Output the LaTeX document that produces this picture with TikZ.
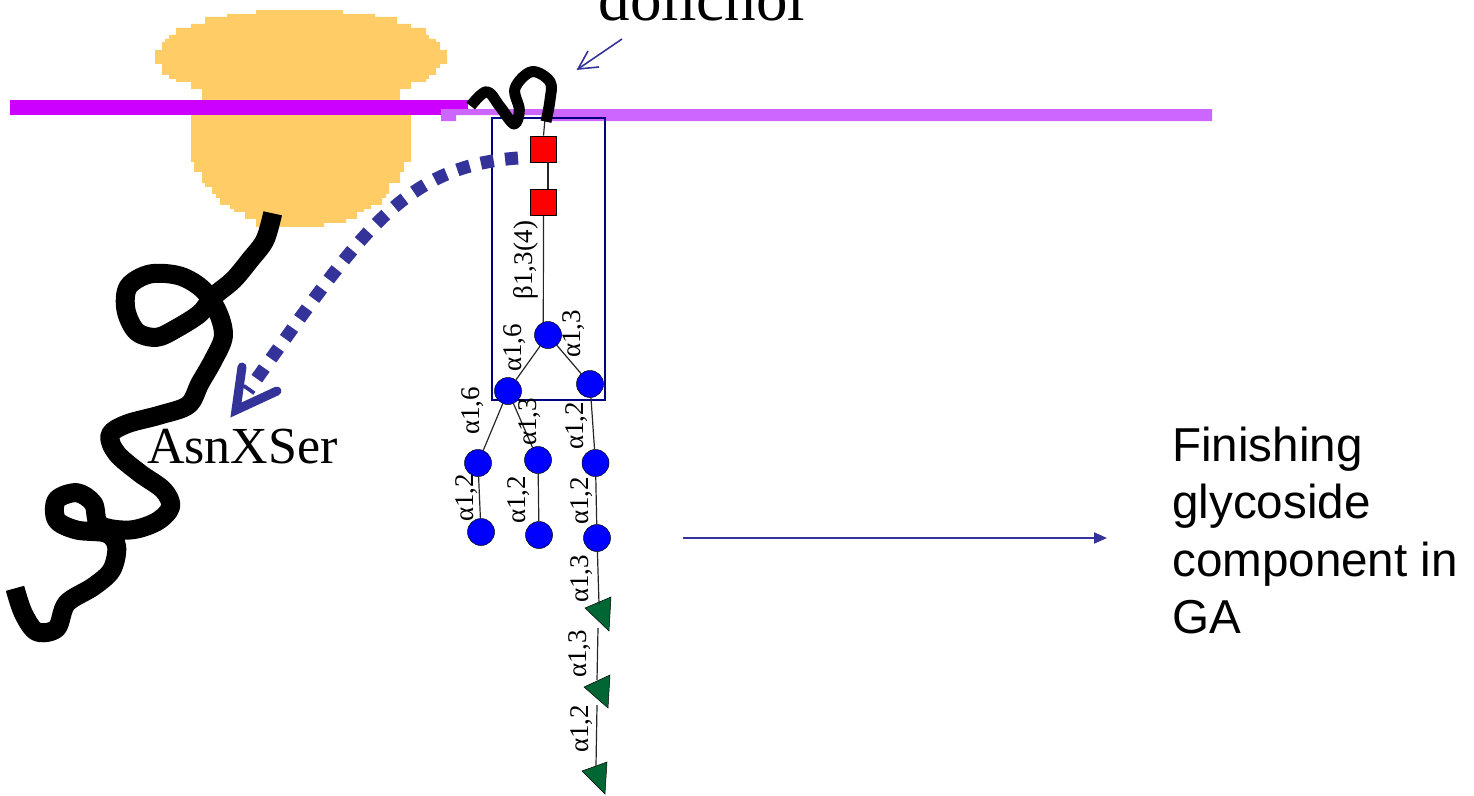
\documentclass[tikz,border=0pt]{standalone}
\usepackage{fontspec}
\setmainfont{Liberation Serif}
\newfontfamily\armfont{Liberation Sans}
\usetikzlibrary{arrows.meta}
\definecolor{ribo}{HTML}{FFCC66}
\definecolor{membA}{HTML}{CC00FF}
\definecolor{membB}{HTML}{CC66FF}
\definecolor{inkblue}{HTML}{333399}
\definecolor{boxblue}{HTML}{000080}
\definecolor{manblue}{HTML}{0000FF}
\definecolor{glcgreen}{HTML}{006633}
\tikzset{
  gnac/.style={rectangle,draw=black,line width=0.9pt,fill=red,minimum size=26pt,inner sep=0pt},
  man/.style={circle,draw=black,line width=0.5pt,fill=manblue,minimum size=27pt,inner sep=0pt},
  glc/.style={draw=black,line width=0.5pt,fill=glcgreen},
  bond/.style={draw=black!85,line width=1.2pt},
  link/.style={rotate=90,inner sep=0pt,font=\fontsize{27}{27}\selectfont},
  chain/.style={draw=black,line cap=butt,line join=round},
}
\begin{document}
\begin{tikzpicture}[x=1pt,y=-1pt]
\useasboundingbox (0,0) rectangle (1474,795);
% ribosome
\begin{scope}[shift={(140,0)},x=0.33333pt,y=-0.33333pt]
\fill[ribo] (348,30)-|(609,42)-|(705,51)-|(771,72)-|(813,84)-|(858,105)-|(867,117)-|(888,126)-|(900,150)-|(921,192)-|(900,204)-|(888,225)-|(867,237)-|(858,246)-|(813,267)-|(780,345)-|(813,486)-|(792,516)-|(780,549)-|(747,582)-|(738,594)-|(726,615)-|(693,627)-|(672,636)-|(651,657)-|(618,669)-|(552,681)-|(348,657)-|(315,636)-|(282,627)-|(270,615)-|(240,594)-|(228,582)-|(216,561)-|(195,549)-|(186,516)-|(162,486)-|(153,345)-|(186,267)-|(153,246)-|(108,237)-|(87,225)-|(66,192)-|(45,150)-|(66,126)-|(75,117)-|(87,105)-|(108,84)-|(153,72)-|(195,51)-|(261,42)-|cycle;
\end{scope}
% membrane
\fill[membA] (10,100) rectangle (468,115);
\fill[membB] (441,109)--(1212,109)--(1212,121)--(546,121)--(546,115)--(456,115)--(456,121)--(441,121)--cycle;
% core region frame
\draw[boxblue,line width=1.3pt] (492,118) rectangle (605,400);
% sugar residues
\node[gnac] (g1) at (543.5,149) {};
\node[gnac] (g2) at (543.5,202.5) {};
\node[man] (c0) at (548,335) {};
\node[man] (c1) at (508,391) {};
\node[man] (c2) at (590,384) {};
\node[man] (c3) at (478,463) {};
\node[man] (c4) at (481,532) {};
\node[man] (c5) at (538,460) {};
\node[man] (c6) at (539,535) {};
\node[man] (c7) at (595.5,463) {};
\node[man] (c8) at (597,538) {};
\coordinate (dolEnd) at (545,119);
\path[glc] (585,608)--(611,597)--(609,631)--cycle;
\path[glc] (584,687)--(610,675)--(608,708)--cycle;
\path[glc] (582,771)--(607,762)--(605,794)--cycle;
\coordinate (t1) at (599,604);
\coordinate (t1b) at (598,628);
\coordinate (t2) at (597,680);
\coordinate (t2b) at (597,705);
\coordinate (t3) at (596,766);
% glycosidic bonds
\path[bond] (dolEnd) -- (g1.north);
\path[bond] ([xshift=4.5pt]g1.south) -- ([xshift=4.5pt]g2.north);
\path[bond] (g2.south) -- (c0.110);
\path[bond] (c0) -- (c1);
\path[bond] (c0) -- (c2);
\path[bond] (c1) -- (c3);
\path[bond] (c1) -- (c5);
\path[bond] (c2) -- (c7);
\path[bond] (c3) -- (c4);
\path[bond] (c5) -- (c6);
\path[bond] (c7) -- (c8);
\path[bond] (c8) -- (t1);
\path[bond] (t1b) -- (t2);
\path[bond] (t2b) -- (t3);
% linkage labels
\node[link] (l1) at (526,260) {β1,3(4)};
\node[link] (l2) at (514.5,348) {α1,6};
\node[link] (l3) at (574,334) {α1,3};
\node[link] (l4) at (473,411) {α1,6};
\node[link] (l5) at (530,422) {α1,3};
\node[link] (l6) at (577,426) {α1,2};
\node[link] (l7) at (467,498) {α1,2};
\node[link] (l8) at (519,500) {α1,2};
\node[link] (l9) at (582,501) {α1,2};
\node[link] (l10) at (582,579) {α1,3};
\node[link] (l11) at (580,654) {α1,3};
\node[link] (l12) at (582,729) {α1,2};
% nascent polypeptide chain
\begin{scope}[shift={(0,200)},x=0.33333pt,y=-0.33333pt]
\draw[chain,line width=19pt] plot[smooth,tension=0.55] coordinates {(818,40) (795,120) (750,180) (700,240) (640,290) (600,340) (530,385) (470,412) (410,395) (378,330) (385,260) (450,222) (540,228) (610,270) (655,340) (670,410) (640,480) (600,550) (565,615) (480,645) (380,672) (330,705) (350,760) (420,820) (490,870) (512,920) (470,965) (390,990) (300,975) (280,910) (230,878) (170,900) (170,960) (230,990) (320,1000) (350,1040) (335,1110) (280,1160) (200,1210) (170,1285) (110,1295) (70,1240) (45,1165)};
\end{scope}
% dolichol anchor
\begin{scope}[shift={(440,0)},x=0.33333pt,y=-0.33333pt]
\draw[chain,line width=11pt] plot[smooth,tension=0.6] coordinates {(92,318) (140,275) (180,320) (222,372) (238,330) (225,265) (275,215) (330,245) (330,300) (318,365)};
\end{scope}
% transfer arrow
\coordinate (xferStart) at (518,158);
\coordinate (xferTip) at (236,410);
\draw[inkblue,line width=13pt,dash pattern=on 13pt off 11.5pt] (xferStart) .. controls (420,165) and (375,215) .. (300,318) -- (248,391);
\draw[inkblue,line width=9pt,line cap=round,line join=miter,miter limit=10] (242,367) -- (xferTip) -- (277,391);
% thin arrows
\coordinate (dolA) at (622,39);
\coordinate (dolB) at (578,69);
\draw[inkblue,line width=1.6pt] (dolA) -- (dolB);
\draw[inkblue,line width=1.6pt] (588,51) -- (dolB) -- (599,67);
\coordinate (finA) at (683,538);
\coordinate (finB) at (1107,538);
\draw[inkblue,line width=2pt,-{Triangle[length=13pt,width=11pt]}] (finA) -- (finB);
% captions
\node[anchor=base,inner sep=0pt,font=\fontsize{63}{63}\selectfont] (dol) at (702,20) {dolichol};
\node[anchor=base west,inner sep=0pt,font=\fontsize{52}{52}\selectfont] (seq) at (147,463) {AsnXSer};
\node[anchor=base west,inner sep=0pt,font=\armfont\fontsize{47.6}{47.6}\selectfont] (fin1) at (1172,461) {Finishing};
\node[anchor=base west,inner sep=0pt,font=\armfont\fontsize{47.6}{47.6}\selectfont] (fin2) at (1172,518) {glycoside};
\node[anchor=base west,inner sep=0pt,font=\armfont\fontsize{47.6}{47.6}\selectfont] (fin3) at (1172,576) {component in};
\node[anchor=base west,inner sep=0pt,font=\armfont\fontsize{47.6}{47.6}\selectfont] (fin4) at (1172,633) {GA};
\end{tikzpicture}
\end{document}
